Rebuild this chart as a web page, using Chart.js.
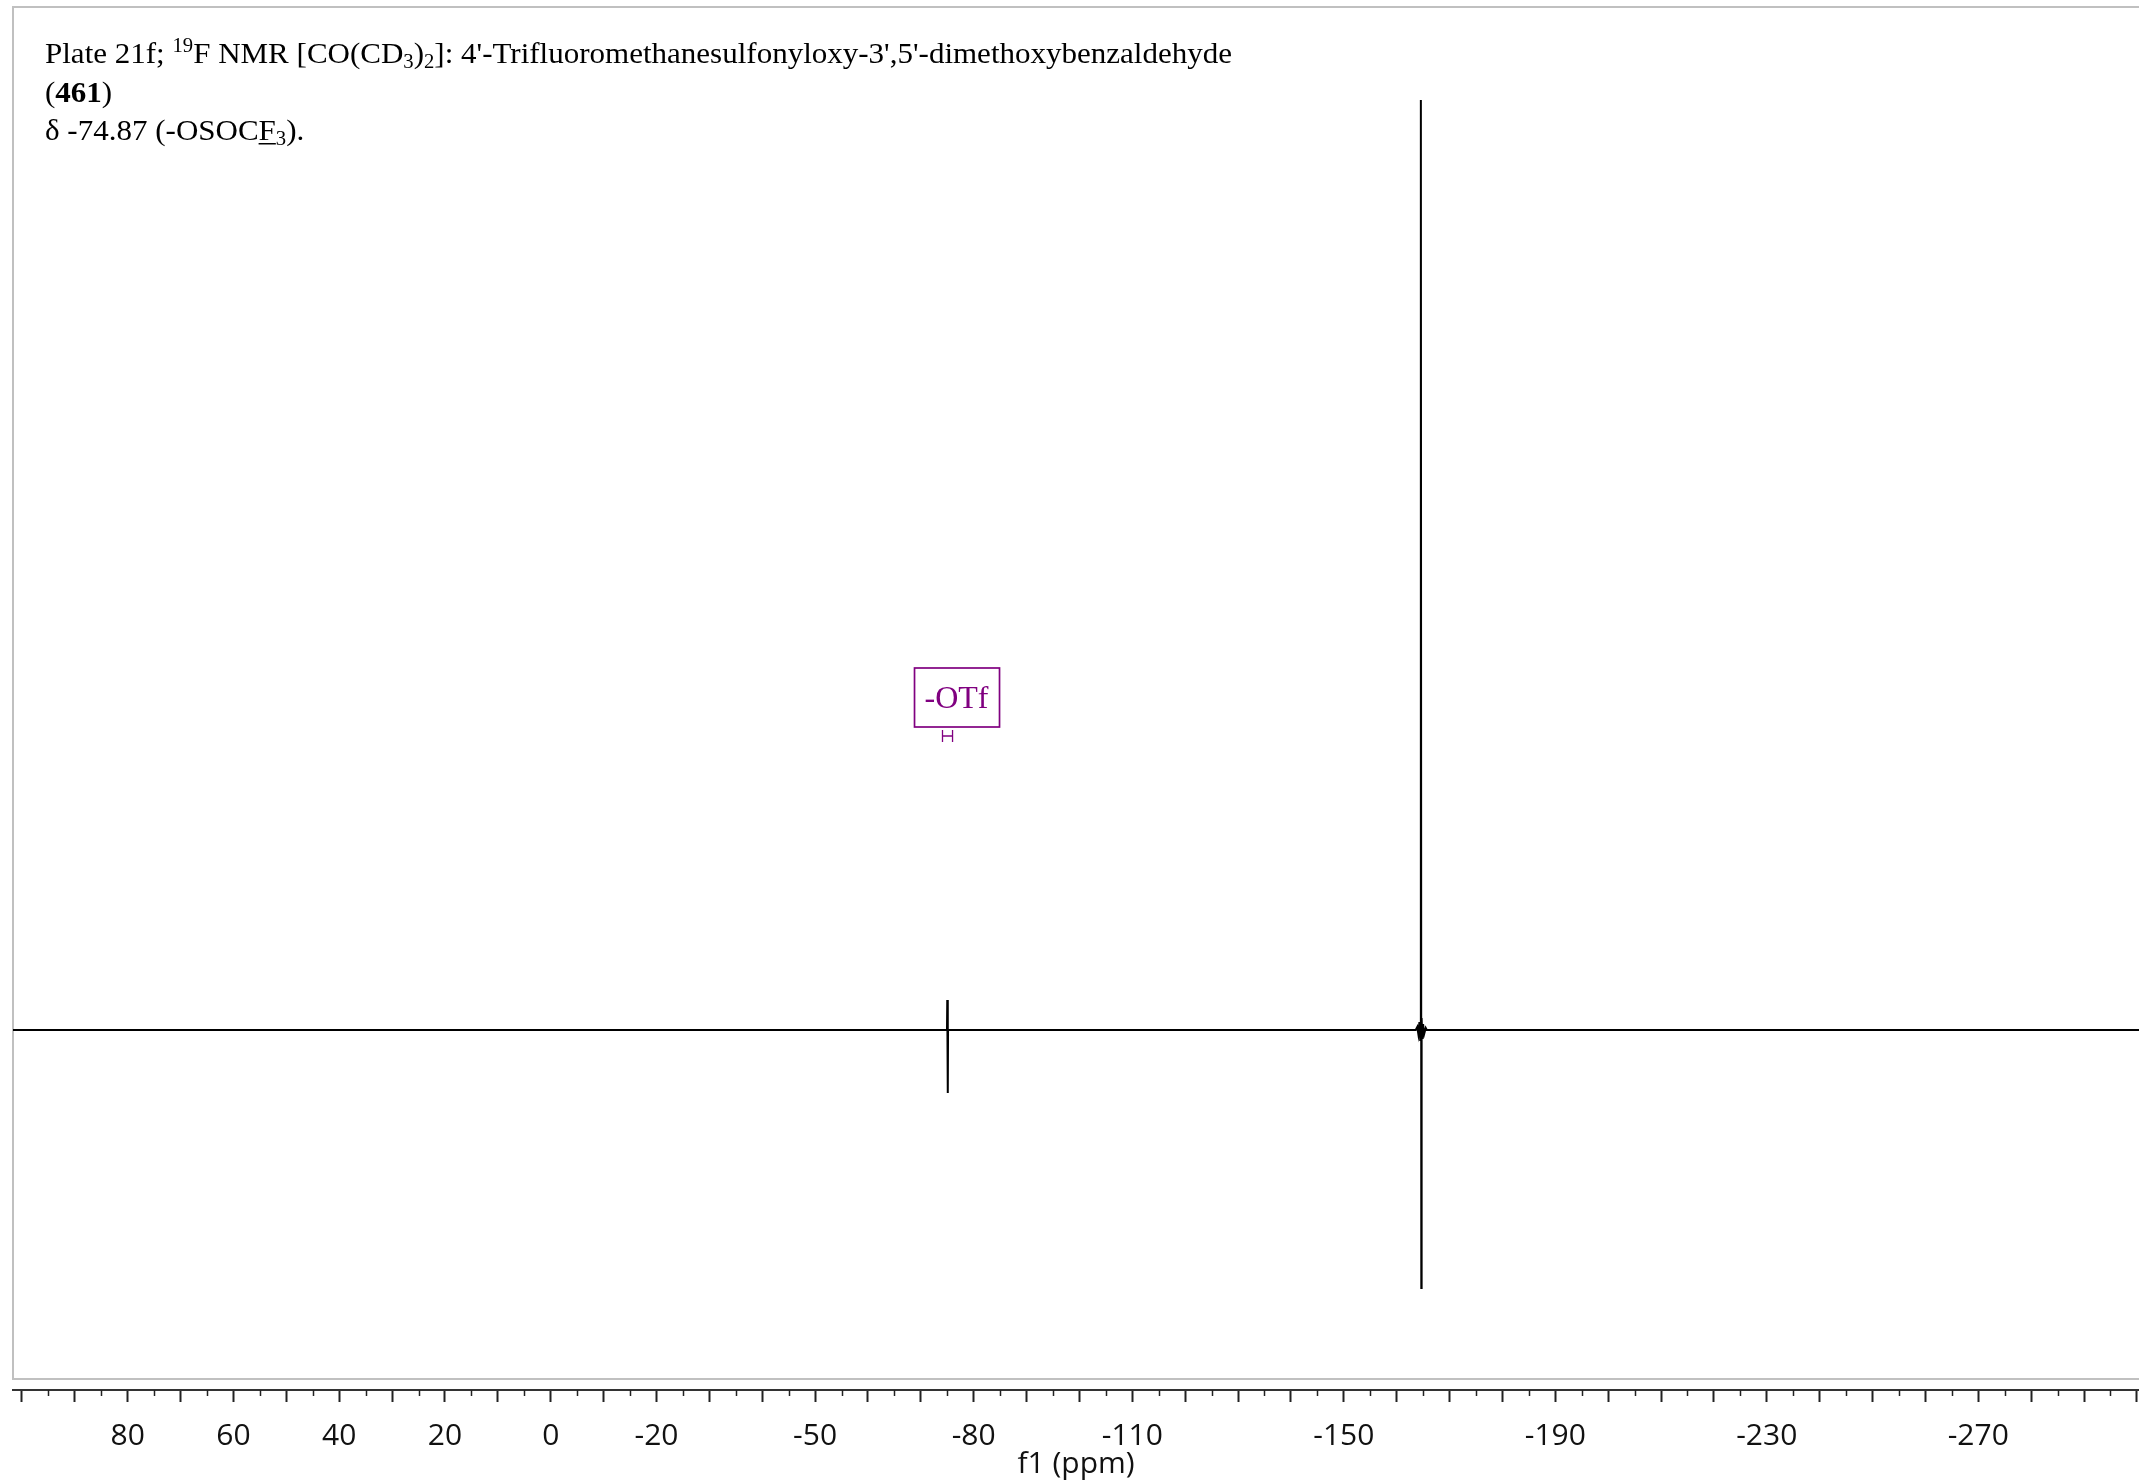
<!DOCTYPE html>
<html>
<head>
<meta charset="utf-8">
<script src="https://cdn.jsdelivr.net/npm/chart.js@4.4.1/dist/chart.umd.min.js"></script>
<style>
  body { margin: 0; background: #fff; }
  #wrap { width: 2139px; height: 1484px; }
</style>
</head>
<body>
<div id="wrap"><canvas id="spectrum" width="2139" height="1484"></canvas></div>
<script>
// 19F NMR plate, f1 axis in ppm (reversed, high field to the right)

// trace: chemical shift (ppm) and intensity (arb. units, baseline 0)
const shiftPpm = [101.7, -74.6, -74.95, -75.0, -75.1, -75.15, -163.6, -163.9, -164.1, -164.3, -164.45, -164.55,
                  -164.6, -164.66, -164.72, -164.85, -165.0, -165.2, -165.5, -165.7, -300.4];
const intensity = [0, 0, 0, 30, -63, 0, 0, 3, -4, 8, -10, 14,
                   930, -258, 12, -9, 6, -4, 2, 0, 0];

// axis
const axisMin = -300.4;
const axisMax = 101.7;
const tickLabels = [80, 60, 40, 20, 0, -20, -50, -80, -110, -150, -190, -230, -270];

// peak label and its integral bracket
const peakLabel = '-OTf';
const peakShift = -75.05;
const bracketRange = [-74.1, -76.0];

// header text, as runs of [text, style]
const headerLines = [
  [['Plate 21f; '], ['19', 'sup'], ['F NMR [CO(CD'], ['3', 'sub'], [')'], ['2', 'sub'],
   ["]: 4'-Trifluoromethanesulfonyloxy-3',5'-dimethoxybenzaldehyde"]],
  [['('], ['461', 'bold'], [')']],
  [['\u03b4 -74.87 (-OSOC'], ['F', 'under'], ['3', 'sub'], [').']]
];

const majorTicks = [];
for (let v = 100; v >= -300; v -= 10) majorTicks.push(v);

const points = shiftPpm.map((x, i) => ({ x: x, y: intensity[i] }));

function drawRuns(ctx, runs, x, y, draw) {
  for (const [text, kind] of runs) {
    const small = kind === 'sup' || kind === 'sub';
    ctx.font = (kind === 'bold' ? 'bold ' : '') + (small ? 20 : 30) + 'px "Liberation Serif"';
    const dy = kind === 'sup' ? -11 : kind === 'sub' ? 5 : 0;
    const w = ctx.measureText(text).width;
    if (draw) {
      ctx.fillText(text, x, y + dy);
      if (kind === 'under') ctx.fillRect(x, y + 3, w, 1.5);
    }
    x += w;
  }
  return x;
}

const framePlugin = {
  id: 'frame',
  beforeDraw(chart) {
    const ctx = chart.ctx, a = chart.chartArea;
    ctx.save();
    ctx.strokeStyle = '#c0c0c0';
    ctx.lineWidth = 2;
    ctx.strokeRect(a.left, 7, chart.width + 20, a.bottom - 11 - 7);
    ctx.restore();
  }
};

const extrasPlugin = {
  id: 'extras',
  afterDraw(chart) {
    const ctx = chart.ctx, a = chart.chartArea;
    const xs = chart.scales.x;
    ctx.save();

    // minor ticks every 5 ppm
    ctx.strokeStyle = '#222';
    ctx.lineWidth = 1.5;
    ctx.beginPath();
    for (let v = 95; v > axisMin; v -= 10) {
      const px = Math.round(xs.getPixelForValue(v)) + 0.5;
      ctx.moveTo(px, a.bottom);
      ctx.lineTo(px, a.bottom + 6);
    }
    ctx.stroke();

    // peak label box
    const cx = xs.getPixelForValue(peakShift) + 9;
    ctx.strokeStyle = '#800080';
    ctx.fillStyle = '#800080';
    ctx.lineWidth = 1.7;
    ctx.strokeRect(cx - 42, 668, 85, 59);
    ctx.font = '32px "Liberation Serif"';
    ctx.textAlign = 'center';
    ctx.textBaseline = 'alphabetic';
    ctx.fillText(peakLabel, cx, 708);

    // integral bracket under the box
    const b0 = xs.getPixelForValue(bracketRange[0]);
    const b1 = xs.getPixelForValue(bracketRange[1]);
    ctx.lineWidth = 1.3;
    ctx.beginPath();
    ctx.moveTo(b0, 730); ctx.lineTo(b0, 742);
    ctx.moveTo(b1, 730); ctx.lineTo(b1, 742);
    ctx.moveTo(b0, 736); ctx.lineTo(b1, 736);
    ctx.stroke();

    // header text, squeezed to the width it has in the plate
    ctx.fillStyle = '#000';
    ctx.textAlign = 'left';
    const natural = drawRuns(ctx, headerLines[0], 0, 0, false);
    const sx = 1187 / natural;
    const lineY = [63, 102, 140];
    ctx.translate(45, 0);
    ctx.scale(sx, 1);
    headerLines.forEach((runs, i) => drawRuns(ctx, runs, 0, lineY[i], true));
    ctx.restore();
  }
};

const ctx = document.getElementById('spectrum').getContext('2d');
new Chart(ctx, {
  type: 'line',
  data: {
    datasets: [{
      data: points,
      borderColor: '#000',
      borderWidth: 2,
      pointRadius: 0,
      tension: 0,
      fill: false
    }]
  },
  options: {
    responsive: false,
    devicePixelRatio: 1,
    animation: false,
    events: [],
    layout: { padding: { left: 13, top: 6, right: 0, bottom: 0 } },
    plugins: { legend: { display: false }, tooltip: { enabled: false } },
    scales: {
      x: {
        type: 'linear',
        reverse: true,
        min: axisMin,
        max: axisMax,
        afterBuildTicks: (s) => { s.ticks = majorTicks.map(v => ({ value: v })); },
        afterFit: (s) => { s.height = 94; s.paddingLeft = 0; s.paddingRight = 0; },
        border: { display: true, color: '#333', width: 2 },
        grid: { drawOnChartArea: false, drawTicks: true, tickLength: 12, tickWidth: 2, tickColor: '#222' },
        ticks: {
          autoSkip: false,
          maxRotation: 0,
          minRotation: 0,
          padding: 16,
          color: '#111',
          font: { family: 'Open Sans', size: 30 },
          callback: (v) => tickLabels.includes(v) ? String(v) : ''
        },
        title: {
          display: true,
          text: 'f1 (ppm)',
          color: '#111',
          font: { family: 'Open Sans', size: 30 },
          padding: { top: 0, bottom: 2 }
        }
      },
      y: {
        display: false,
        min: -360,
        max: 1024
      }
    }
  },
  plugins: [framePlugin, extrasPlugin]
});
</script>
</body>
</html>
